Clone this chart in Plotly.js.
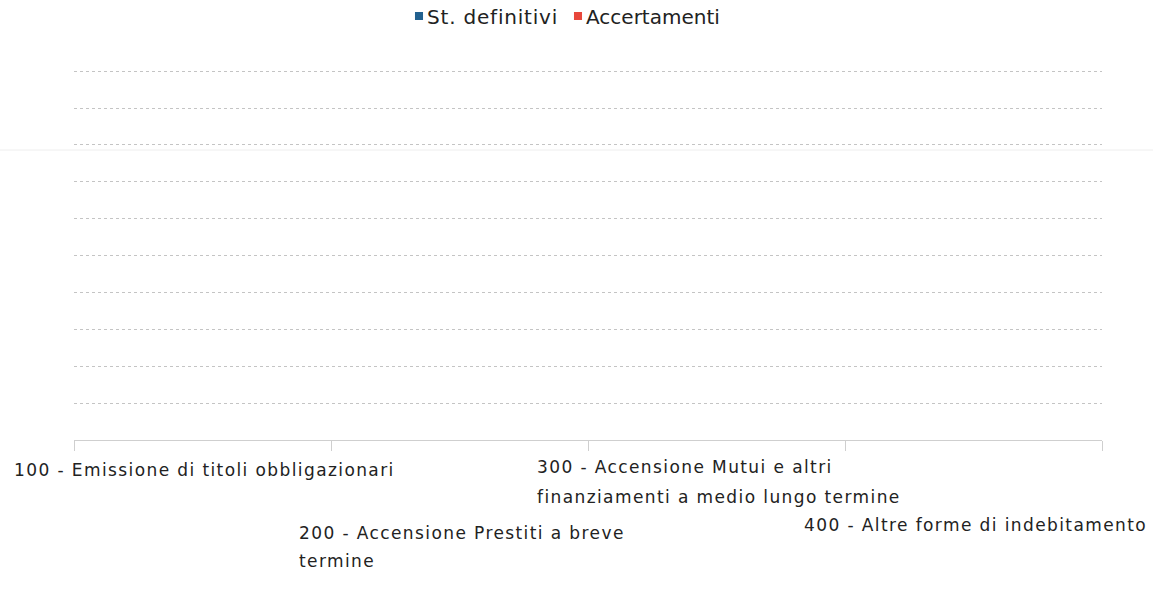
<!DOCTYPE html>
<html>
<head>
<meta charset="utf-8">
<script src="https://cdn.plot.ly/plotly-3.0.1.min.js"></script>
<style>
html,body{margin:0;padding:0;background:#fff;}
#chart{width:1153px;height:589px;}
text.annotation-text{letter-spacing:1.4px;}
text.legendtext{letter-spacing:0.8px;}
#chart .legendpoints path{transform:translate(32px,0) scale(0.67);}
</style>
</head>
<body>
<div id="chart"></div>
<script>
// ---- data ----
const categories = ["100", "200", "300", "400"];
const categoryLabels = [
  ["100 - Emissione di titoli obbligazionari"],
  ["200 - Accensione Prestiti a breve", "termine"],
  ["300 - Accensione Mutui e altri", "finanziamenti a medio lungo termine"],
  ["400 - Altre forme di indebitamento"]
];
const seriesNames = ["St. definitivi", "Accertamenti"];
const stDefinitivi = [0, 0, 0, 0];
const accertamenti = [0, 0, 0, 0];
const seriesColors = ["#22618f", "#e8473b"];

// ---- layout constants ----
const W = 1153, H = 589;
const mL = 74, mR = 51, mT = 69, mB = 149;
const plotH = H - mT - mB;
const FONT = "DejaVu Sans, sans-serif";
const FSIZE = 17;
const LS = 1.4;
// vertical centre (page px) of each label line, per category
const lineCentres = [[470], [533, 561], [467, 497], [525]];
// left edge (page px) of each legend block
const legendLeft = [387, 546];

function measure(text) {
  const c = document.createElement("canvas").getContext("2d");
  c.font = FSIZE + "px 'DejaVu Sans'";
  return c.measureText(text).width + LS * text.length;
}

const annotations = [];
categoryLabels.forEach((lines, i) => {
  const blockW = Math.max(...lines.map(measure));
  lines.forEach((ln, j) => {
    annotations.push({
      xref: "x", yref: "paper",
      x: i,
      y: (H - mB - lineCentres[i][j]) / plotH,
      xanchor: "left", yanchor: "middle", align: "left",
      xshift: -blockW / 2,
      text: ln, showarrow: false,
      font: {family: FONT, size: FSIZE, color: "#222"}
    });
  });
});

const traces = [
  {type: "bar", name: seriesNames[0], x: categories, y: stDefinitivi, marker: {color: seriesColors[0]}, legend: "legend"},
  {type: "bar", name: seriesNames[1], x: categories, y: accertamenti, marker: {color: seriesColors[1]}, legend: "legend2"}
];

function legendAt(px) {
  return {
    orientation: "h", xref: "container", yref: "container",
    xanchor: "left", yanchor: "middle",
    x: px / W, y: 1 - 16 / H,
    font: {family: FONT, size: 20, color: "#222"},
    itemwidth: 30, tracegroupgap: 0, bgcolor: "rgba(0,0,0,0)", borderwidth: 0
  };
}

const plotW = W - mL - mR;
const layout = {
  width: W, height: H,
  margin: {l: mL, r: mR, t: mT, b: mB, pad: 0, autoexpand: false},
  paper_bgcolor: "#fff", plot_bgcolor: "#fff",
  font: {family: FONT, size: FSIZE, color: "#222"},
  showlegend: true,
  legend: legendAt(legendLeft[0]),
  legend2: legendAt(legendLeft[1]),
  barmode: "group",
  xaxis: {
    type: "category", range: [-0.5, categories.length - 0.5], autorange: false,
    showticklabels: false,
    showline: true, linecolor: "#cfcfcf", linewidth: 1,
    ticks: "outside", ticklen: 10, tickcolor: "#cfcfcf", tickson: "boundaries",
    showgrid: false, zeroline: false
  },
  yaxis: {
    range: [0, 10.06], autorange: false, dtick: 1, showticklabels: false,
    showgrid: true, gridcolor: "#c4c4c4", griddash: "dot", gridwidth: 1,
    zeroline: false, showline: false, ticks: ""
  },
  shapes: [{
    type: "line", xref: "paper", yref: "paper",
    x0: -mL / plotW, x1: (W - mL) / plotW,
    y0: (H - mB - 150) / plotH, y1: (H - mB - 150) / plotH,
    line: {color: "#eeeeee", width: 1}, layer: "below"
  }],
  annotations: annotations
};

Plotly.newPlot("chart", traces, layout, {displayModeBar: false, staticPlot: true});
</script>
</body>
</html>
